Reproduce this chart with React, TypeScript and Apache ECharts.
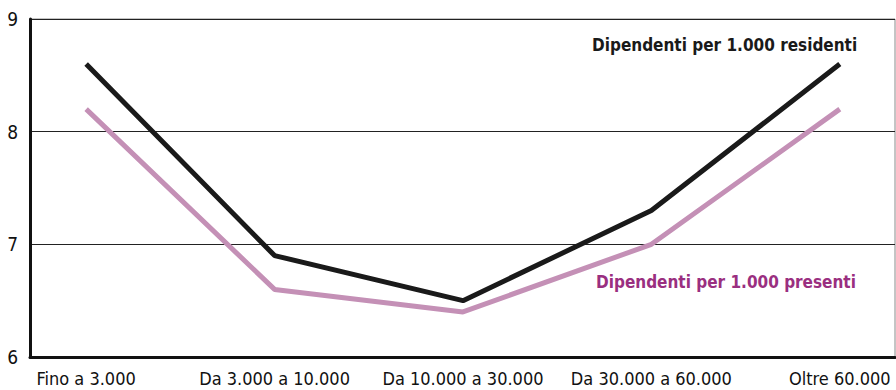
import React, { useEffect, useRef } from "react";
import * as echarts from "echarts";

const categories = ["Fino a 3.000", "Da 3.000 a 10.000", "Da 10.000 a 30.000", "Da 30.000 a 60.000", "Oltre 60.000"];
const residenti = [8.6, 6.9, 6.5, 7.3, 8.6];
const presenti = [8.2, 6.6, 6.4, 7.0, 8.2];
const yTicks = [6, 7, 8, 9];
const labelResidenti = "Dipendenti per 1.000 residenti";
const labelPresenti = "Dipendenti per 1.000 presenti";

const FONT = "'Liberation Sans Narrow', 'DejaVu Sans Condensed', 'Roboto Condensed', sans-serif";

export default function App() {
  const ref = useRef<HTMLDivElement>(null);
  useEffect(() => {
    document.body.style.margin = "0";
    const chart = echarts.init(ref.current!, null, { renderer: "svg" });
    const idx = categories.map((_, i) => i);
    chart.setOption({
      animation: false,
      backgroundColor: "#ffffff",
      grid: {
        left: 30,
        right: 1,
        top: 19,
        bottom: 33,
        show: true,
        borderColor: "#8a8a8a",
        borderWidth: 1,
      },
      xAxis: {
        type: "value",
        min: -0.298,
        max: 4.293,
        axisLine: { show: true, onZero: false, lineStyle: { color: "#111", width: 3 } },
        axisTick: { show: false },
        splitLine: { show: false },
        axisLabel: {
          customValues: idx,
          formatter: (v: number) => categories[Math.round(v)] ?? "",
          color: "#111",
          fontSize: 18,
          fontFamily: FONT,
          margin: 12,
        },
      },
      yAxis: {
        type: "value",
        min: 6,
        max: 9,
        interval: 1,
        axisLine: { show: true, onZero: false, lineStyle: { color: "#111", width: 3 } },
        axisTick: { show: false },
        splitLine: { show: true, lineStyle: { color: "#222", width: 1 } },
        axisLabel: {
          customValues: yTicks,
          color: "#111",
          fontSize: 19,
          fontFamily: FONT,
          margin: 12,
        },
      },
      series: [
        {
          type: "line",
          data: idx.map((i) => [i, presenti[i]]),
          showSymbol: false,
          symbol: "none",
          lineStyle: { color: "#c490b6", width: 5 },
          z: 2,
        },
        {
          type: "line",
          data: idx.map((i) => [i, residenti[i]]),
          showSymbol: false,
          symbol: "none",
          lineStyle: { color: "#1a1a1a", width: 5 },
          z: 3,
        },
      ],
      graphic: [
        {
          type: "text",
          left: 592,
          top: 36,
          style: {
            text: labelResidenti,
            fill: "#1a1a1a",
            font: `bold 17px ${FONT}`,
          },
        },
        {
          type: "text",
          left: 596,
          top: 273,
          style: {
            text: labelPresenti,
            fill: "#9a2f80",
            font: `bold 17px ${FONT}`,
          },
        },
      ],
    });
    return () => chart.dispose();
  }, []);
  return <div ref={ref} style={{ width: 896, height: 390 }} />;
}
